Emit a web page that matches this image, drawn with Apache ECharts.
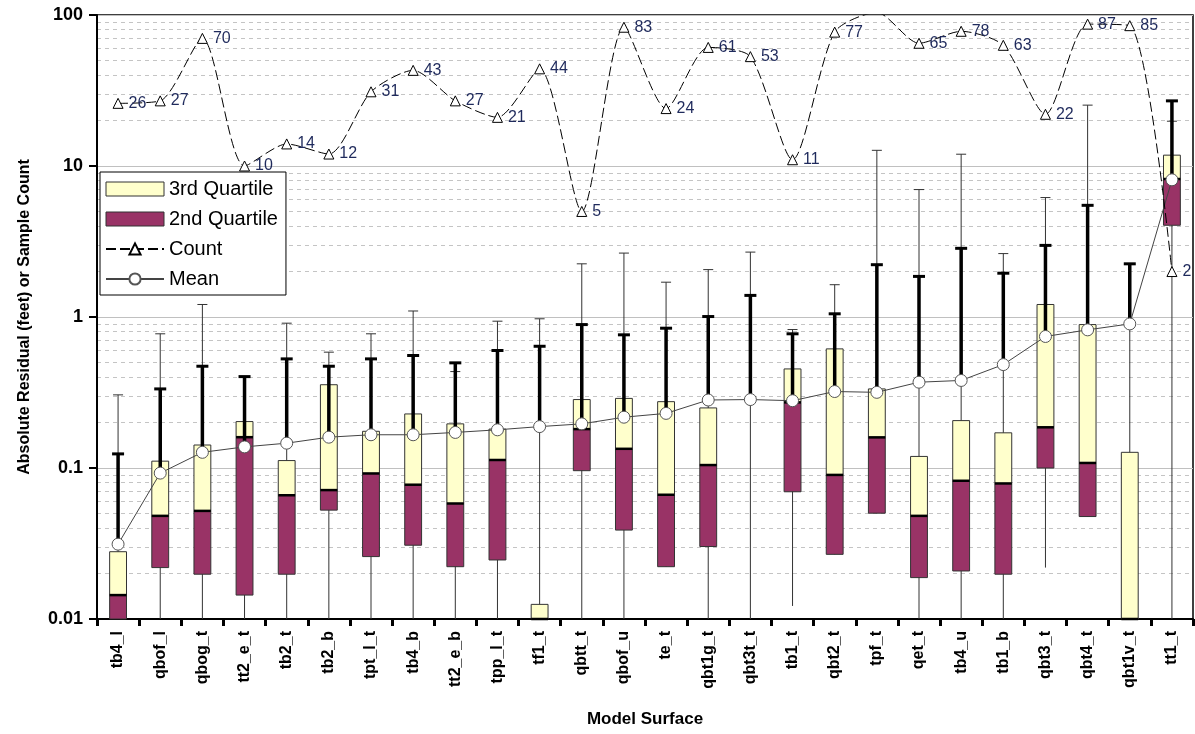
<!DOCTYPE html>
<html><head><meta charset="utf-8">
<script src="https://cdn.jsdelivr.net/npm/echarts@6/dist/echarts.min.js"></script>
<style>html,body{margin:0;padding:0;background:#fff}#c{width:1195px;height:734px}</style>
</head><body><div id="c"></div>
<script>
const categories = ['tb4_l','qbof_l','qbog_t','tt2_e_t','tb2_t','tb2_b','tpt_l_t','tb4_b','tt2_e_b','tpp_l_t','tf1_t','qbtt_t','qbof_u','te_t','qbt1g_t','qbt3t_t','tb1_t','qbt2_t','tpf_t','qet_t','tb4_u','tb1_b','qbt3_t','qbt4_t','qbt1v_t','tt1_t'];
const q1     = [0.01,0.0219,0.0198,0.0144,0.0198,0.0526,0.0259,0.0308,0.0222,0.0246,0.01,0.096,0.0388,0.0222,0.0302,null,0.0696,0.0268,0.0502,0.0188,0.0208,0.0198,0.1,0.0477,0.01,4.05];
const median = [0.0144,0.0482,0.052,0.16,0.066,0.0714,0.092,0.0775,0.0582,0.113,0.01,0.181,0.134,0.0665,0.1046,null,0.272,0.09,0.1595,0.0482,0.0823,0.079,0.186,0.108,0.01,8.2];
const q3     = [0.0279,0.111,0.142,0.203,0.112,0.356,0.175,0.228,0.196,0.181,0.0125,0.284,0.289,0.275,0.25,null,0.453,0.615,0.334,0.1193,0.206,0.171,1.21,0.891,0.127,11.8];
const mean   = [0.0313,0.0925,0.127,0.138,0.146,0.16,0.166,0.166,0.172,0.179,0.188,0.196,0.217,0.23,0.282,0.284,0.279,0.321,0.317,0.37,0.38,0.484,0.743,0.822,0.9,8.1];
const upper  = [0.124,0.334,0.472,0.403,0.528,0.472,0.528,0.556,0.497,0.6,0.64,0.891,0.762,0.843,1.007,1.39,0.774,1.05,2.22,1.857,2.85,1.95,2.98,5.49,2.25,27];
const maxVal = [0.305,0.774,1.21,0.403,0.91,0.585,0.774,1.096,0.435,0.938,0.973,2.25,2.65,1.7,2.06,2.69,0.826,1.636,12.7,6.98,11.97,2.63,6.18,25.3,2.25,19.8];
const minVal = [0.01,0.01,0.01,0.01,0.01,0.01,0.01,0.01,0.01,0.01,0.01,0.01,0.01,0.0222,0.01,0.01,0.0122,0.0268,0.0502,0.01,0.01,0.01,0.0219,0.0477,0.01,0.01];
const count  = [26,27,70,10,14,12,31,43,27,21,44,5,83,24,61,53,11,77,104,65,78,63,22,87,85,2];
const countLabelHidden = ['tpf_t'];
const yTicks = [0.01,0.1,1,10,100];

const FONT = 'Arial, "Liberation Sans", sans-serif';
const YELLOW = '#FFFFCC', MAROON = '#993366';

// minor gridlines at 2..9 of each decade
const minorGrid = [];
for (let d = 0; d < yTicks.length - 1; d++) {
  for (let k = 2; k <= 9; k++) minorGrid.push(+(yTicks[d] * k).toPrecision(3));
}

function bandW(api) {
  return Math.abs(api.coord([1, 1])[0] - api.coord([0, 1])[0]);
}
function bad(v) { return v == null || isNaN(v); }

function boxRender(color, withMedian) {
  return function (params, api) {
    const i = api.value(0), lo = api.value(1), hi = api.value(2);
    if (bad(lo) || bad(hi)) return;
    const w = bandW(api) * 0.4;
    const pt = api.coord([i, hi]), pb = api.coord([i, lo]);
    const children = [{
      type: 'rect',
      shape: { x: pt[0] - w / 2, y: pt[1], width: w, height: pb[1] - pt[1] },
      style: { fill: color, stroke: '#333', lineWidth: 1 }
    }];
    if (withMedian) {
      children.push({ type: 'line', shape: { x1: pt[0] - w / 2, y1: pt[1], x2: pt[0] + w / 2, y2: pt[1] },
        style: { stroke: '#000', lineWidth: 2.5 } });
    }
    return { type: 'group', children };
  };
}

function thinRender(params, api) {
  const i = api.value(0), lo = api.value(1), hi = api.value(2);
  const pb = api.coord([i, lo]), pt = api.coord([i, hi]);
  return { type: 'group', children: [
    { type: 'line', shape: { x1: pt[0], y1: pb[1], x2: pt[0], y2: pt[1] }, style: { stroke: '#333', lineWidth: 1 } },
    { type: 'line', shape: { x1: pt[0] - 5, y1: pt[1], x2: pt[0] + 5, y2: pt[1] }, style: { stroke: '#333', lineWidth: 1 } }
  ] };
}
function thickRender(params, api) {
  const i = api.value(0), lo = api.value(1), hi = api.value(2);
  const pb = api.coord([i, lo]), pt = api.coord([i, hi]);
  return { type: 'group', children: [
    { type: 'line', shape: { x1: pt[0], y1: pb[1], x2: pt[0], y2: pt[1] }, style: { stroke: '#000', lineWidth: 3.5 } },
    { type: 'line', shape: { x1: pt[0] - 6, y1: pt[1], x2: pt[0] + 6, y2: pt[1] }, style: { stroke: '#000', lineWidth: 3 } }
  ] };
}

const chart = echarts.init(document.getElementById('c'), null, { renderer: 'canvas' });
chart.setOption({
  animation: false,
  backgroundColor: '#fff',
  grid: { left: 97, right: 2, top: 15, bottom: 115, show: true, borderColor: '#000', borderWidth: 1.5, backgroundColor: 'transparent' },
  legend: {
    left: 100, top: 172, orient: 'vertical',
    itemWidth: 58, itemHeight: 14, itemGap: 10,
    padding: [7, 8, 6, 5],
    borderColor: '#000', borderWidth: 1, backgroundColor: '#fff',
    textStyle: { fontSize: 20, fontFamily: FONT, color: '#000' },
    data: [
      { name: '3rd Quartile', icon: 'rect', itemStyle: { color: YELLOW, borderColor: '#333', borderWidth: 1 } },
      { name: '2nd Quartile', icon: 'rect', itemStyle: { color: MAROON, borderColor: '#333', borderWidth: 1 } },
      { name: 'Count' },
      { name: 'Mean' }
    ]
  },
  xAxis: {
    type: 'category', data: categories,
    name: 'Model Surface', nameLocation: 'middle', nameGap: 92,
    nameTextStyle: { fontSize: 17, fontWeight: 'bold', fontFamily: FONT, color: '#000' },
    axisLine: { lineStyle: { color: '#000', width: 2 } },
    axisTick: { show: true, alignWithLabel: false, length: 7, lineStyle: { color: '#000', width: 3 } },
    axisLabel: { rotate: 90, margin: 12, fontSize: 16, fontWeight: 'bold', fontFamily: FONT, color: '#000', interval: 0 },
    splitLine: { show: false }
  },
  yAxis: {
    type: 'log', logBase: 10, min: yTicks[0], max: yTicks[yTicks.length - 1],
    name: 'Absolute Residual (feet) or Sample Count', nameLocation: 'middle', nameGap: 64, nameRotate: 90,
    nameTextStyle: { fontSize: 16, fontWeight: 'bold', fontFamily: FONT, color: '#000' },
    axisLine: { show: true, lineStyle: { color: '#000', width: 2 } },
    axisTick: { show: true, length: 8, lineStyle: { color: '#000', width: 2 } },
    axisLabel: { margin: 14, fontSize: 18, fontWeight: 'bold', fontFamily: FONT, color: '#000',
      formatter: v => String(+v.toPrecision(3)) },
    splitLine: { show: true, lineStyle: { color: '#c0c0c0', width: 1 } }
  },
  series: [
    {
      name: 'minor-grid', type: 'line', data: [], z: 0, silent: true,
      markLine: { silent: true, z: 0, symbol: 'none', label: { show: false }, animation: false,
        lineStyle: { type: [4, 4], color: '#c4c4c4', width: 1 },
        data: minorGrid.map(v => ({ yAxis: v })) }
    },
    {
      name: 'range', type: 'custom', z: 2, silent: true,
      renderItem: thinRender,
      encode: { x: 0, y: [1, 2] },
      data: categories.map((c, i) => [i, minVal[i], maxVal[i]])
    },
    {
      name: '3rd Quartile', type: 'custom', z: 3, itemStyle: { color: YELLOW },
      renderItem: boxRender(YELLOW, false),
      encode: { x: 0, y: [1, 2] },
      data: categories.map((c, i) => [i, median[i] == null ? '-' : median[i], q3[i] == null ? '-' : q3[i]])
    },
    {
      name: '2nd Quartile', type: 'custom', z: 3, itemStyle: { color: MAROON },
      renderItem: boxRender(MAROON, true),
      encode: { x: 0, y: [1, 2] },
      data: categories.map((c, i) => [i, q1[i] == null ? '-' : q1[i], median[i] == null ? '-' : median[i]])
    },
    {
      name: 'upper', type: 'custom', z: 4, silent: true,
      renderItem: thickRender,
      encode: { x: 0, y: [1, 2] },
      data: categories.map((c, i) => [i, mean[i], upper[i]])
    },
    {
      name: 'Mean', type: 'line', z: 6, data: mean,
      symbol: 'circle', symbolSize: 12,
      itemStyle: { color: '#fff', borderColor: '#555', borderWidth: 1 },
      lineStyle: { color: '#444', width: 1 }
    },
    {
      name: 'Count', type: 'line', z: 7, data: count.map((v, i) => ({
        value: v, label: { show: countLabelHidden.indexOf(categories[i]) < 0 }
      })),
      smooth: 0.25, clip: true,
      symbol: 'triangle', symbolSize: 10,
      itemStyle: { color: '#fff', borderColor: '#000', borderWidth: 1 },
      lineStyle: { color: '#000', width: 1, type: [10, 4] },
      label: { show: true, position: 'right', distance: 5, fontSize: 16, fontFamily: FONT, color: '#1f2a5c' }
    }
  ]
});
</script>
</body></html>
